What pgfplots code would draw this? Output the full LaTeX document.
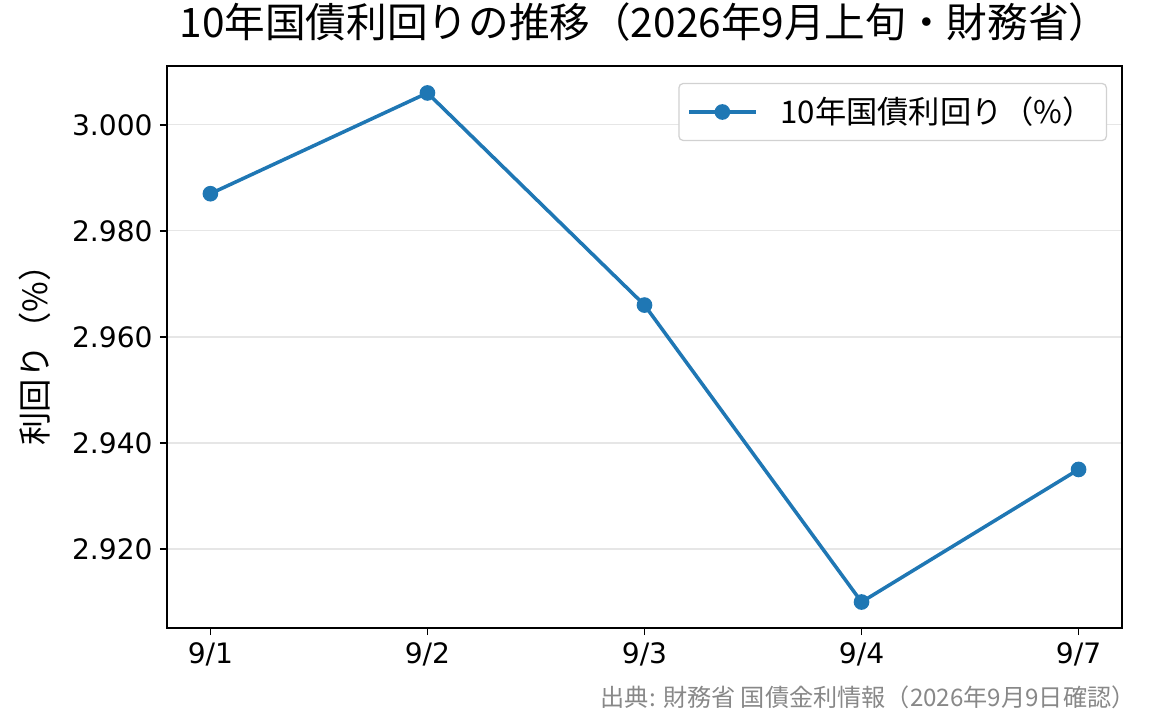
\documentclass[border=0pt]{standalone}
\usepackage{pgfplots}
\pgfplotsset{compat=1.18}
\usepackage{fontspec}
\setmainfont{Noto Sans CJK JP}
\newfontfamily\tickfont{DejaVu Sans}
\definecolor{mplblue}{HTML}{1F77B4}
\definecolor{gridgray}{HTML}{E6E6E6}
\definecolor{notegray}{HTML}{888888}

\begin{document}
\begin{tikzpicture}
\path[use as bounding box] (-80.16pt,-46.56pt) rectangle (479.04pt,301.44pt);
\begin{axis}[
    scale only axis,
    width=458.4pt, height=269.8pt,
    at={(0,0)}, anchor=south west,
    clip=false,
    xmin=-0.2, xmax=4.2,
    ymin=2.9051, ymax=3.0111,
    xtick={0,1,2,3,4},
    xticklabels={9/1,9/2,9/3,9/4,9/7},
    ytick={2.92,2.94,2.96,2.98,3.00},
    yticklabel style={/pgf/number format/.cd, fixed, fixed zerofill, precision=3},
    /pgf/number format/assume math mode=true,
    ticklabel style={font=\tickfont\fontsize{13.5}{16}\selectfont},
    tick align=outside,
    xtick pos=bottom, ytick pos=left,
    major tick length=3.4pt,
    axis line style={line width=0.8pt},
    every tick/.style={black, line width=0.8pt},
    ymajorgrids=true,
    grid style={gridgray, line width=0.6pt},
    title={10年国債利回りの推移（2026年9月上旬・財務省）},
    title style={at={(0.5,1)}, anchor=base, yshift=7.7pt, font=\fontsize{19.5}{22}\selectfont},
    ylabel={利回り（\%）},
    ylabel style={at={(axis description cs:-0.138,0.5)}, anchor=center, rotate=0, font=\fontsize{16}{18}\selectfont},
    legend style={at={(0.9843,0.9698)}, anchor=north east, draw=black!18, rounded corners=2pt, line width=0.6pt,
        font=\fontsize{15}{17}\selectfont, inner xsep=4pt, inner ysep=4.5pt,
        /tikz/every odd column/.append style={column sep=9pt}},
    legend cell align=left,
    legend image code/.code={
        \draw[mark repeat=2, mark phase=2, #1] plot coordinates {(0pt,0pt) (16pt,0pt) (32pt,0pt)};
    },
]
\addplot[color=mplblue, line width=1.7pt, mark=*, mark size=2.9pt, mark options={solid}]
    coordinates {
    (0, 2.987)(1, 3.006)(2, 2.966)(3, 2.910)(4, 2.935)
    };
\addlegendentry{10年国債利回り（\%）}
\node[anchor=east, text=notegray, font=\fontsize{11.6}{14}\selectfont] at (axis description cs:1.022,-0.1228) {出典: 財務省 国債金利情報（2026年9月9日確認）};
\end{axis}
\end{tikzpicture}
\end{document}
